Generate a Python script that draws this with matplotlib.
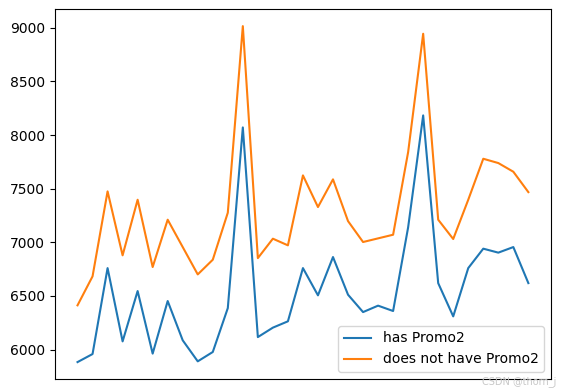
import numpy as np
import matplotlib
matplotlib.use('Agg')
from matplotlib import pyplot as plt

days = list(range(1, 32))

has_promo2 = [5884, 5959, 6760, 6077, 6546, 5963, 6453, 6087, 5891, 5978,
              6387, 8071, 6117, 6205, 6264, 6760, 6506, 6863, 6512, 6350,
              6410, 6360, 7140, 8183, 6620, 6310, 6760, 6941, 6904, 6956,
              6620]

no_promo2 = [6413, 6683, 7475, 6879, 7397, 6770, 7211, 6956, 6701, 6838,
             7276, 9015, 6853, 7034, 6972, 7624, 7329, 7587, 7198, 7003,
             7037, 7071, 7841, 8944, 7211, 7031, 7397, 7779, 7739, 7658,
             7468]


def main():
    fig = plt.figure(figsize=(5.61, 3.89), dpi=100)
    fig.subplots_adjust(left=0.098, right=0.982, top=0.976, bottom=0.026)
    plt.plot(days, has_promo2, label='has Promo2')
    plt.plot(days, no_promo2, label='does not have Promo2')
    plt.xticks([])
    plt.yticks([6000, 6500, 7000, 7500, 8000, 8500, 9000])
    plt.legend(loc='lower right')
    fig.text(0.86, 0.012, 'CSDN @thorn_j', color='#c8c8c8', fontsize=7)
    plt.savefig('out.png', dpi=100)


if __name__ == '__main__':
    main()
